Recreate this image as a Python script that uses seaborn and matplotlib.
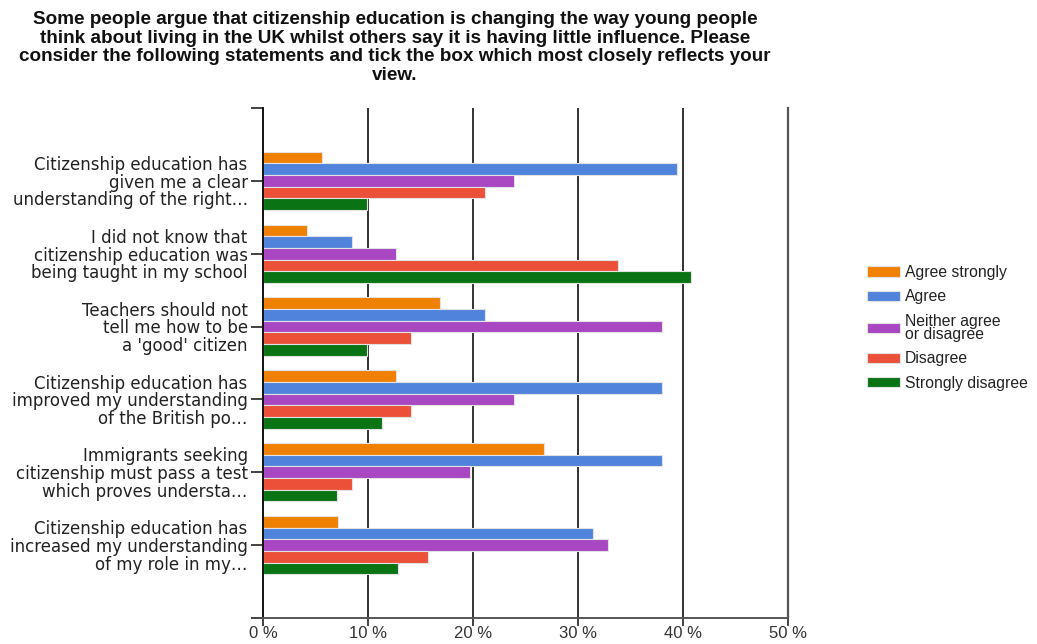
import matplotlib
matplotlib.use("Agg")
import matplotlib.pyplot as plt
import seaborn as sns
import pandas as pd

# Survey statements (y categories) and response percentages per option
statements = [
    "Citizenship education has\ngiven me a clear\nunderstanding of the right…",
    "I did not know that\ncitizenship education was\nbeing taught in my school",
    "Teachers should not\ntell me how to be\na 'good' citizen",
    "Citizenship education has\nimproved my understanding\nof the British po…",
    "Immigrants seeking\ncitizenship must pass a test\nwhich proves understa…",
    "Citizenship education has\nincreased my understanding\nof my role in my…",
]
responses = ["Agree strongly", "Agree", "Neither agree\nor disagree",
             "Disagree", "Strongly disagree"]

agree_strongly = [5.6, 4.2, 16.9, 12.7, 26.8, 7.1]
agree = [39.4, 8.5, 21.1, 38.0, 38.0, 31.4]
neither = [23.9, 12.7, 38.0, 23.9, 19.7, 32.9]
disagree = [21.1, 33.8, 14.1, 14.1, 8.5, 15.7]
strongly_disagree = [9.9, 40.8, 9.9, 11.3, 7.0, 12.9]

x_ticks = [0, 10, 20, 30, 40, 50]
x_tick_labels = ["0 %", "10 %", "20 %", "30 %", "40 %", "50 %"]

colors = ["#f08000", "#5083dc", "#a946c2", "#ec5038", "#0a7314"]

series = [agree_strongly, agree, neither, disagree, strongly_disagree]
rows = []
for resp, vals in zip(responses, series):
    for st, v in zip(statements, vals):
        rows.append({"statement": st, "response": resp, "value": v})
df = pd.DataFrame(rows)

sns.set_style("white")
plt.rcParams["font.family"] = ["DejaVu Sans"]

fig = plt.figure(figsize=(10.37, 6.44), dpi=100)
ax = fig.add_axes([263 / 1037, 1 - 618 / 644, (788 - 263) / 1037, (618 - 108) / 644])

sns.barplot(data=df, y="statement", x="value", hue="response",
            order=statements, hue_order=responses, palette=colors,
            saturation=1, width=0.8, orient="h", errorbar=None,
            edgecolor="#e2e2e2", linewidth=0.8, ax=ax, legend=True)

ax.set_xlim(0, 50)
ax.set_ylim(6, -1)
ax.set_xlabel("")
ax.set_ylabel("")

# vertical gridlines
for xv in x_ticks[1:-1]:
    ax.axvline(xv, color="#222222", lw=1.3, zorder=0)

ax.set_xticks(x_ticks)
ax.set_xticklabels(x_tick_labels, fontsize=12, color="#333333",
                   family="Liberation Sans")
ax.tick_params(axis="x", direction="out", length=6, width=1.2,
               color="#222222", pad=0, bottom=True)

ax.set_yticks(range(-1, 7))
ax.set_yticklabels([""] + statements + [""], fontsize=12, color="#222222",
                   linespacing=0.98)
ax.tick_params(axis="y", direction="out", length=9, width=1.2,
               color="#222222", pad=2, left=True)
for lbl in ax.get_yticklabels():
    lbl.set_horizontalalignment("right")

for side in ["left", "right", "bottom"]:
    ax.spines[side].set_visible(True)
ax.spines["top"].set_visible(False)
ax.spines["left"].set_color("#111111")
ax.spines["left"].set_linewidth(1.4)
ax.spines["right"].set_color("#555555")
ax.spines["right"].set_linewidth(1.6)
ax.spines["bottom"].set_color("#555555")
ax.spines["bottom"].set_linewidth(1.4)

handles, labels = ax.get_legend_handles_labels()
ax.legend_.remove()
leg = fig.legend(handles, labels, loc="upper left",
                 bbox_to_anchor=(867 / 1037, 1 - 265 / 644),
                 frameon=False, prop={"family": "Liberation Sans", "size": 11.3},
                 handlelength=2.1, handleheight=0.62, handletextpad=0.3,
                 labelspacing=0.6, borderpad=0, borderaxespad=0)
for t in leg.get_texts():
    t.set_linespacing(0.85)
    t.set_color("#222222")

fig.text(395 / 1037, 1 - 11 / 644,
         "Some people argue that citizenship education is changing the way young people\n"
         "think about living in the UK whilst others say it is having little influence. Please\n"
         "consider the following statements and tick the box which most closely reflects your\n"
         "view.",
         ha="center", va="top", fontsize=13.6, fontweight="bold",
         family="Liberation Sans", color="#111111", linespacing=1.13)

fig.savefig("out.png", dpi=100, facecolor="white")
